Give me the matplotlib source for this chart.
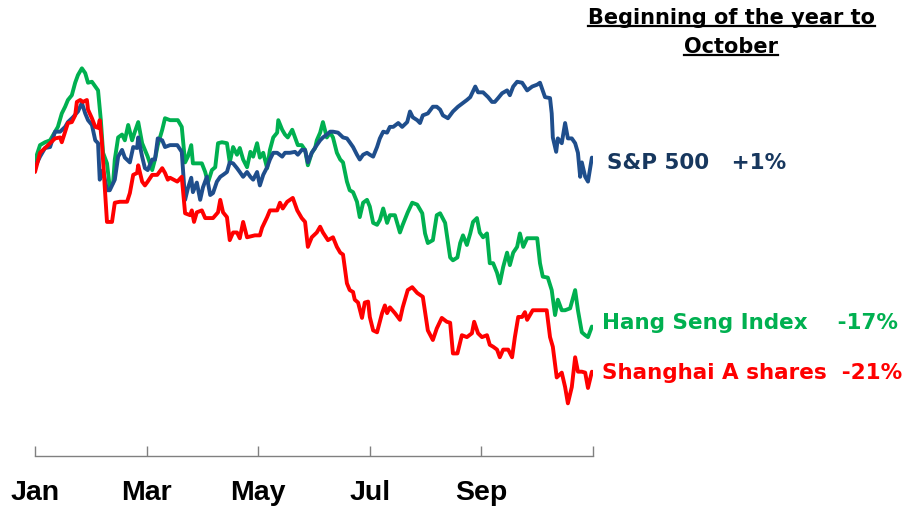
import matplotlib
matplotlib.use("Agg")
import matplotlib.pyplot as plt
from matplotlib.lines import Line2D
from matplotlib import font_manager

# ---- data (x in months since Jan 1, y in % change since start of year) ----
month_ticks = [0, 2, 4, 6, 8, 10]
month_labels = ["Jan", "Mar", "May", "Jul", "Sep", ""]

sp_x = [0, 0.09, 0.18, 0.27, 0.36, 0.45, 0.54, 0.59, 0.68, 0.77, 0.84, 0.90, 0.95, 1.02, 1.08, 1.13,
        1.16, 1.22, 1.29, 1.34, 1.43, 1.49, 1.56, 1.61, 1.70, 1.76, 1.83, 1.85, 1.92, 1.97, 2.02, 2.10,
        2.15, 2.20, 2.28, 2.33, 2.42, 2.55, 2.63, 2.69, 2.74, 2.80, 2.83, 2.90, 2.96, 3.01, 3.08, 3.14,
        3.19, 3.26, 3.32, 3.37, 3.44, 3.49, 3.55, 3.62, 3.67, 3.73, 3.80, 3.86, 3.91, 3.98, 4.03, 4.09,
        4.16, 4.21, 4.27, 4.34, 4.43, 4.48, 4.57, 4.66, 4.71, 4.78, 4.84, 4.89, 4.96, 5.05, 5.11, 5.16,
        5.23, 5.29, 5.34, 5.43, 5.52, 5.59, 5.64, 5.70, 5.77, 5.82, 5.88, 5.95, 6.00, 6.06, 6.13, 6.18,
        6.24, 6.31, 6.36, 6.42, 6.51, 6.58, 6.67, 6.72, 6.77, 6.85, 6.90, 6.95, 7.04, 7.13, 7.20, 7.26,
        7.31, 7.40, 7.49, 7.58, 7.67, 7.74, 7.80, 7.89, 7.94, 8.03, 8.12, 8.19, 8.24, 8.30, 8.37, 8.46,
        8.51, 8.57, 8.64, 8.73, 8.82, 8.91, 9.00, 9.05, 9.14, 9.23, 9.26, 9.28, 9.34, 9.37, 9.44, 9.50,
        9.55, 9.62, 9.68, 9.73, 9.77, 9.80, 9.86, 9.91, 9.98]
sp_y = [0.5, 1.6, 2.5, 2.6, 4.2, 4.2, 4.7, 5.2, 5.7, 6.3, 7.2, 6.1, 5.4, 4.9, 3.3, 3.0,
        -0.8, 0.2, -1.9, -1.9, -0.8, 1.6, 2.3, 1.5, 1.0, 2.6, 2.5, 3.6, 1.6, 0.4, 0.2, 1.3,
        1.3, 3.5, 3.3, 2.6, 2.8, 2.8, 2.1, -2.9, -1.7, -0.6, -2.1, -1.1, -2.9, -1.6, -0.5, -2.4,
        -2.2, -1.0, -0.5, -0.3, 0.0, 1.0, 0.9, 0.4, 0.0, -0.5, 0.0, -0.5, -0.8, 0.0, -1.4, -0.3,
        0.5, 1.3, 2.0, 2.0, 1.6, 2.0, 2.0, 2.1, 1.8, 2.3, 2.3, 1.0, 2.0, 2.8, 3.3, 3.6,
        3.9, 4.2, 4.2, 4.1, 3.6, 3.5, 3.1, 2.6, 1.8, 1.3, 1.8, 2.0, 1.8, 1.6, 2.6, 3.5,
        4.2, 4.1, 4.7, 4.7, 5.1, 4.7, 5.2, 6.3, 5.7, 5.4, 5.1, 5.9, 6.1, 6.8, 6.8, 6.5,
        5.9, 5.6, 6.3, 6.8, 7.2, 7.5, 7.8, 8.9, 8.3, 8.3, 7.8, 7.3, 7.3, 7.7, 8.2, 8.5,
        8.0, 8.9, 9.4, 9.3, 8.5, 8.9, 9.1, 9.3, 7.8, 7.7, 6.1, 3.6, 2.1, 3.5, 3.0, 5.1,
        3.5, 3.5, 3.0, 2.0, -0.5, 1.0, -0.5, -1.0, 1.5]

hsi_x = [0, 0.09, 0.18, 0.27, 0.36, 0.41, 0.48, 0.54, 0.59, 0.66, 0.72, 0.77, 0.84, 0.90, 0.95, 1.02,
         1.08, 1.13, 1.18, 1.22, 1.29, 1.34, 1.40, 1.43, 1.49, 1.56, 1.61, 1.67, 1.74, 1.79, 1.85, 1.92,
         1.97, 2.02, 2.10, 2.15, 2.20, 2.28, 2.33, 2.42, 2.56, 2.63, 2.69, 2.74, 2.80, 2.83, 2.99, 3.05,
         3.10, 3.17, 3.23, 3.28, 3.35, 3.44, 3.49, 3.55, 3.62, 3.67, 3.73, 3.80, 3.86, 3.91, 3.98, 4.03,
         4.09, 4.16, 4.21, 4.27, 4.34, 4.36, 4.43, 4.48, 4.53, 4.61, 4.66, 4.71, 4.78, 4.84, 4.89, 4.96,
         5.02, 5.05, 5.11, 5.16, 5.23, 5.29, 5.34, 5.41, 5.47, 5.52, 5.59, 5.64, 5.70, 5.77, 5.82, 5.88,
         5.95, 6.00, 6.06, 6.13, 6.18, 6.24, 6.31, 6.36, 6.45, 6.54, 6.59, 6.68, 6.76, 6.85, 6.94, 6.99,
         7.04, 7.13, 7.20, 7.26, 7.35, 7.44, 7.49, 7.57, 7.62, 7.67, 7.74, 7.80, 7.85, 7.92, 7.97, 8.03,
         8.10, 8.15, 8.21, 8.28, 8.33, 8.39, 8.46, 8.51, 8.57, 8.64, 8.69, 8.75, 8.82, 9.00, 9.05, 9.10,
         9.19, 9.26, 9.32, 9.37, 9.44, 9.50, 9.59, 9.68, 9.73, 9.80, 9.86, 9.91, 9.98]
hsi_y = [1.2, 2.8, 3.1, 3.3, 4.2, 4.7, 6.1, 6.8, 7.5, 8.0, 9.3, 10.1, 10.8, 10.3, 9.3, 9.4,
         8.9, 8.5, 5.4, 2.0, 0.9, -1.6, -1.1, 1.3, 3.6, 3.9, 3.3, 4.9, 3.3, 4.2, 5.2, 3.0,
         2.3, 1.6, 0.2, 1.3, 2.8, 4.4, 5.6, 5.4, 5.4, 4.7, 1.0, 1.6, 2.8, 0.9, 0.9, 0.0,
         -1.1, 0.2, 0.5, 3.0, 3.1, 3.0, 1.0, 2.6, 1.8, 2.5, 1.3, 0.5, 2.1, 1.6, 3.0, 1.5,
         2.0, 0.4, 2.3, 3.6, 4.1, 5.4, 4.4, 3.9, 3.6, 4.4, 3.6, 2.8, 2.8, 2.3, 0.7, 2.0,
         2.5, 3.3, 4.1, 5.2, 3.6, 4.1, 3.6, 2.0, 1.3, 1.0, -1.0, -1.9, -2.1, -3.1, -4.7, -3.2,
         -2.9, -3.6, -5.3, -5.5, -5.0, -3.8, -5.3, -4.5, -4.5, -6.3, -5.5, -4.2, -3.2, -3.4, -4.3, -6.4,
         -7.4, -7.1, -4.5, -4.3, -5.3, -8.9, -9.2, -8.9, -7.4, -6.6, -7.6, -6.4, -5.2, -4.8, -6.3, -6.8,
         -6.4, -9.5, -9.5, -10.5, -11.6, -9.9, -8.4, -9.7, -8.4, -7.8, -6.4, -7.8, -6.9, -6.9, -9.5, -10.9,
         -11.0, -12.3, -14.9, -13.3, -14.4, -14.4, -14.2, -12.3, -14.4, -16.7, -17.0, -17.2, -16.1]

sh_x = [0, 0.09, 0.18, 0.27, 0.36, 0.45, 0.48, 0.54, 0.59, 0.66, 0.72, 0.75, 0.81, 0.86, 0.93, 0.95,
        1.02, 1.08, 1.13, 1.16, 1.20, 1.25, 1.29, 1.38, 1.43, 1.52, 1.65, 1.70, 1.76, 1.83, 1.85, 1.92,
        1.97, 2.02, 2.10, 2.19, 2.28, 2.33, 2.38, 2.42, 2.55, 2.63, 2.69, 2.78, 2.81, 2.85, 2.90, 2.99,
        3.05, 3.19, 3.28, 3.32, 3.37, 3.44, 3.49, 3.55, 3.62, 3.67, 3.73, 3.80, 3.94, 4.03, 4.07, 4.16,
        4.21, 4.34, 4.39, 4.44, 4.52, 4.57, 4.62, 4.70, 4.78, 4.84, 4.89, 4.96, 5.05, 5.11, 5.16, 5.25,
        5.34, 5.41, 5.47, 5.52, 5.59, 5.64, 5.70, 5.73, 5.79, 5.86, 5.91, 5.97, 6.00, 6.06, 6.13, 6.22,
        6.27, 6.31, 6.36, 6.45, 6.54, 6.59, 6.68, 6.76, 6.85, 6.95, 7.04, 7.13, 7.20, 7.29, 7.38, 7.44,
        7.49, 7.57, 7.65, 7.74, 7.83, 7.87, 7.94, 8.01, 8.10, 8.15, 8.21, 8.28, 8.33, 8.39, 8.48, 8.55,
        8.60, 8.66, 8.73, 8.78, 8.82, 8.87, 8.92, 9.17, 9.23, 9.28, 9.35, 9.44, 9.50, 9.55, 9.62, 9.68,
        9.73, 9.80, 9.86, 9.91, 9.98]
sh_y = [0.0, 2.0, 2.5, 3.0, 3.5, 3.6, 3.1, 4.2, 5.1, 5.2, 5.9, 7.3, 7.5, 7.3, 7.5, 6.5,
        5.6, 4.7, 4.6, 5.4, 3.0, -1.6, -5.2, -5.2, -3.2, -3.1, -3.1, -2.2, -0.3, -0.1, 0.7, -1.0,
        -1.4, -1.0, -0.3, -0.3, 0.4, -0.1, -0.8, -0.6, -1.0, -0.5, -4.3, -4.5, -4.0, -5.2, -4.2, -4.0,
        -4.8, -4.8, -4.2, -2.9, -4.2, -4.7, -7.1, -6.3, -6.3, -6.9, -5.2, -6.8, -6.6, -6.6, -5.8, -4.7,
        -4.0, -4.0, -3.2, -3.8, -3.1, -2.9, -2.7, -4.0, -4.8, -5.2, -7.8, -6.8, -6.3, -5.7, -6.3, -7.1,
        -6.8, -7.8, -8.4, -8.6, -11.6, -12.3, -12.5, -13.3, -13.6, -15.2, -13.6, -13.5, -15.1, -16.5, -16.7, -14.7,
        -13.9, -14.7, -14.1, -14.7, -15.4, -14.1, -12.3, -12.0, -12.6, -13.0, -16.5, -17.5, -16.3, -15.2, -15.6, -15.7,
        -18.9, -18.9, -17.0, -17.2, -16.8, -15.6, -16.8, -17.2, -17.0, -18.0, -18.2, -18.5, -19.3, -18.5, -18.5, -19.3,
        -17.2, -15.1, -15.1, -14.6, -15.4, -14.9, -14.4, -14.4, -17.2, -18.2, -21.4, -20.9, -22.4, -24.1, -22.4, -19.3,
        -20.8, -20.8, -20.9, -22.5, -20.8]

series_names = ["S&P 500   +1%", "Hang Seng Index    -17%", "Shanghai A shares  -21%"]
label_y = [0.9, -15.7, -20.9]

# ---- style ----
c_sp_line = "#1F4E8C"
c_sp_text = "#17375E"
c_hsi = "#00B050"
c_sh = "#FF0000"

W, H = 914, 511
fig = plt.figure(figsize=(W / 100, H / 100), dpi=100)
fig.patch.set_facecolor("white")

ax_left, ax_right = 35, 593
ax_top, ax_bot = 60, 456
ax = fig.add_axes([ax_left / W, (H - ax_bot) / H, (ax_right - ax_left) / W, (ax_bot - ax_top) / H])

lw = 2.8
ax.plot(sp_x, sp_y, color=c_sp_line, lw=lw, solid_joinstyle="round", solid_capstyle="round", zorder=3)
ax.plot(hsi_x, hsi_y, color=c_hsi, lw=lw, solid_joinstyle="round", solid_capstyle="round", zorder=2)
ax.plot(sh_x, sh_y, color=c_sh, lw=lw, solid_joinstyle="round", solid_capstyle="round", zorder=4)

# y mapping: 0% at pixel 172, 9.6 px per %
px_per = 9.6
ax.set_ylim((172 - ax_bot) / px_per, (172 - ax_top) / px_per)
ax.set_xlim(0, 10)

for s in ["top", "right", "left"]:
    ax.spines[s].set_visible(False)
ax.spines["bottom"].set_color("#808080")
ax.spines["bottom"].set_linewidth(1.0)
ax.set_yticks([])
ax.set_xticks(month_ticks)

avail = {f.name for f in font_manager.fontManager.ttflist}
narrow = "Liberation Sans Narrow" in avail
tick_family = ["Liberation Sans Narrow"] if narrow else ["Liberation Sans"]
ax.set_xticklabels(month_labels, fontsize=23 if narrow else 20.5,
                   fontweight="bold", family=tick_family)
ax.tick_params(axis="x", direction="in", length=7.5, width=1.0, color="#808080", pad=17)

# series labels
colors_txt = [c_sp_text, c_hsi, c_sh]
xs_lbl = [10.25, 10.16, 10.16]
for name, yy, cc, xx in zip(series_names, label_y, colors_txt, xs_lbl):
    ax.text(xx, yy, name, color=cc, fontsize=15.5, fontweight="bold", family="DejaVu Sans",
            ha="left", va="center", clip_on=False)

# title (underlined)
t1 = fig.text(731 / W, 1 - 18 / H, "Beginning of the year to", ha="center", va="center",
              fontsize=15, fontweight="bold", family="DejaVu Sans", color="black")
t2 = fig.text(731 / W, 1 - 47 / H, "October", ha="center", va="center",
              fontsize=15, fontweight="bold", family="DejaVu Sans", color="black")
fig.canvas.draw()
r = fig.canvas.get_renderer()
for t in (t1, t2):
    bb = t.get_window_extent(r)
    yline = bb.y0 + 2
    fig.add_artist(Line2D([bb.x0 / W, bb.x1 / W], [yline / H, yline / H],
                          transform=fig.transFigure, color="black", lw=1.6))

fig.savefig("out.png", dpi=100, facecolor="white")
